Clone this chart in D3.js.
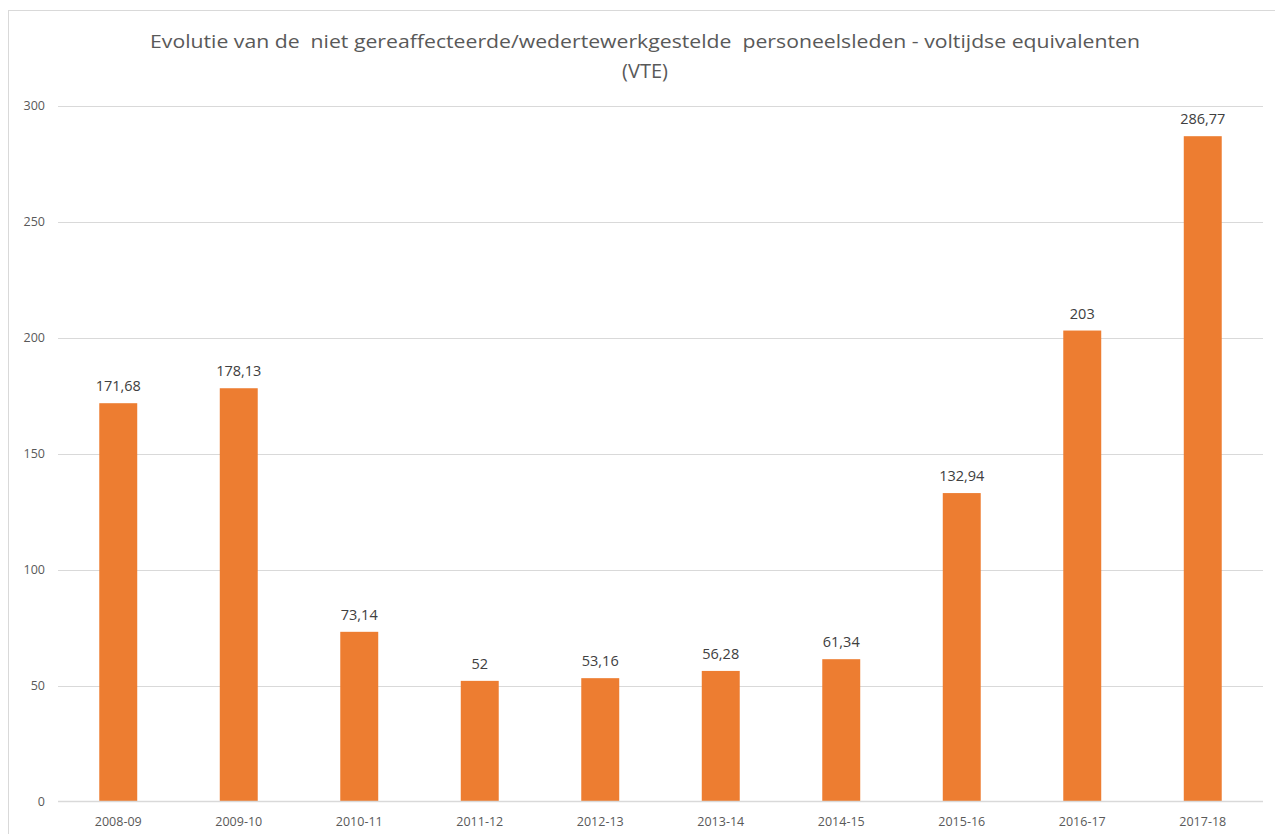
<!DOCTYPE html>
<html><head><meta charset="utf-8">
<script src="https://cdn.jsdelivr.net/npm/d3@7"></script>
<style>body{margin:0;background:#fff}svg{display:block}text{white-space:pre}</style>
</head><body>
<svg id="c" width="1275" height="834"></svg>
<script>
const categories = ["2008-09","2009-10","2010-11","2011-12","2012-13","2013-14","2014-15","2015-16","2016-17","2017-18"];
const values = [171.68,178.13,73.14,52,53.16,56.28,61.34,132.94,203,286.77];
const valueLabels = ["171,68","178,13","73,14","52","53,16","56,28","61,34","132,94","203","286,77"];
const yTicks = [0,50,100,150,200,250,300];
const titleLines = ["Evolutie van de  niet gereaffecteerde/wedertewerkgestelde  personeelsleden - voltijdse equivalenten","(VTE)"];

const svg = d3.select("#c");
const font = "'Open Sans', 'Noto Sans', sans-serif";
// outer border
svg.append("rect").attr("x",8.5).attr("y",10.5).attr("width",1300).attr("height",900)
  .attr("fill","none").attr("stroke","#d9d9d9").attr("stroke-width",1);

const x = d3.scaleBand().domain(categories).range([58,1263]).paddingInner(0.685).paddingOuter(0.3425);
const y = d3.scaleLinear().domain([0,300]).range([801.5,105.5]);

// gridlines
svg.append("g").selectAll("line").data(yTicks.filter(d=>d>0)).join("line")
  .attr("x1",58).attr("x2",1263).attr("y1",d=>Math.round(y(d))+0.5).attr("y2",d=>Math.round(y(d))+0.5)
  .attr("stroke","#d9d9d9").attr("stroke-width",1);

// y tick labels
svg.append("g").selectAll("text").data(yTicks).join("text")
  .attr("x",45).attr("y",d=>y(d)).attr("dy","0.35em").attr("text-anchor","end")
  .attr("font-family",font).attr("font-size",12.5).attr("fill","#595959").text(d=>d);

// bars
svg.append("g").selectAll("rect").data(values).join("rect")
  .attr("x",(d,i)=>x(categories[i])).attr("width",x.bandwidth())
  .attr("y",d=>y(d)).attr("height",d=>y(0)-y(d)).attr("fill","#ed7d31");

// x axis line
svg.append("line").attr("x1",58).attr("x2",1263).attr("y1",801.5).attr("y2",801.5)
  .attr("stroke","#d9d9d9").attr("stroke-width",1.5);

// x labels
svg.append("g").selectAll("text").data(categories).join("text")
  .attr("x",d=>x(d)+x.bandwidth()/2).attr("y",826).attr("text-anchor","middle")
  .attr("font-family",font).attr("font-size",12.5).attr("fill","#595959").text(d=>d);

// value labels
svg.append("g").selectAll("text").data(values).join("text")
  .attr("x",(d,i)=>x(categories[i])+x.bandwidth()/2).attr("y",d=>y(d)-12)
  .attr("text-anchor","middle").attr("font-family",font).attr("font-size",14.5).attr("fill","#404040")
  .text((d,i)=>valueLabels[i]);

// title
const t = svg.append("text").attr("text-anchor","middle").attr("font-family",font)
  .attr("font-size",19).attr("fill","#595959").attr("xml:space","preserve");
t.append("tspan").attr("x",645).attr("y",48).attr("textLength",990).attr("lengthAdjust","spacingAndGlyphs").text(titleLines[0]);
t.append("tspan").attr("x",645).attr("y",78).attr("font-size",20).text(titleLines[1]);
</script>
</body></html>
